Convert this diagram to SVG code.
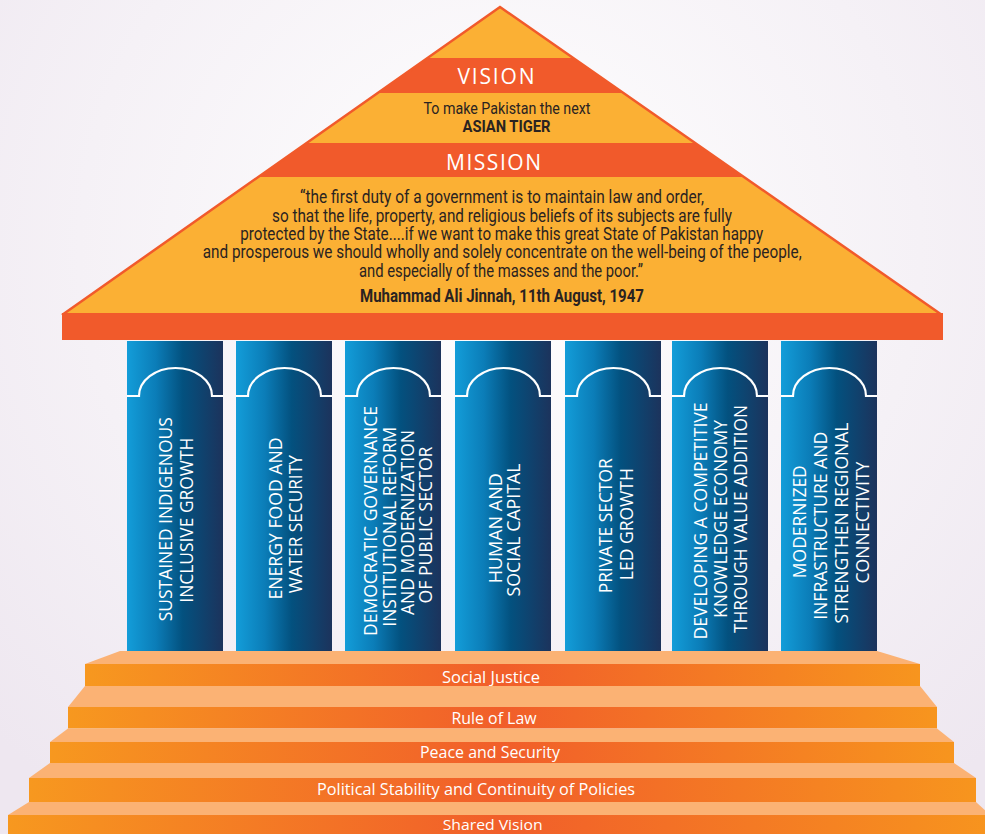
<svg xmlns="http://www.w3.org/2000/svg" width="985" height="834" viewBox="0 0 985 834">
<defs>
  <radialGradient id="bg" cx="500" cy="250" r="700" gradientUnits="userSpaceOnUse">
    <stop offset="0" stop-color="#FFFFFF"/>
    <stop offset="0.6" stop-color="#F5F1F6"/>
    <stop offset="1" stop-color="#EEE7F0"/>
  </radialGradient>
  <linearGradient id="col" x1="0" y1="0" x2="1" y2="0">
    <stop offset="0" stop-color="#139DD9"/>
    <stop offset="0.3" stop-color="#0B7DB8"/>
    <stop offset="0.58" stop-color="#03517F"/>
    <stop offset="1" stop-color="#1C335C"/>
  </linearGradient>
  <linearGradient id="step" x1="0" y1="0" x2="1" y2="0">
    <stop offset="0" stop-color="#F7981F"/>
    <stop offset="0.5" stop-color="#F15E2A"/>
    <stop offset="1" stop-color="#F7951E"/>
  </linearGradient>
  <clipPath id="roofClip">
    <polygon points="500,7 62,315 942,315"/>
  </clipPath>
  <style>
    .roofFill{fill:#FBB034;}
    .band{fill:#F15A2B;}
    .edge{fill:none;stroke:#F15A2B;stroke-width:2.5;stroke-linejoin:miter;}
    .hd{font-family:"Open Sans","Liberation Sans",sans-serif;font-size:21px;fill:#FFFFFF;text-anchor:middle;}
    .q{font-family:Roboto,"Liberation Sans",sans-serif;font-size:17.5px;fill:#2A2321;text-anchor:middle;}
    .qb{font-family:Roboto,"Liberation Sans",sans-serif;font-size:17.5px;font-weight:bold;fill:#2A2321;text-anchor:middle;}
    .v{font-family:Roboto,"Liberation Sans",sans-serif;font-size:16px;fill:#2A2321;text-anchor:middle;}
    .vb{font-family:Roboto,"Liberation Sans",sans-serif;font-size:16px;font-weight:bold;fill:#2A2321;text-anchor:middle;}
    .column{fill:url(#col);}
    .cap{fill:none;stroke:#FFFFFF;stroke-width:2.2;}
    .ct{font-family:"Open Sans","Liberation Sans",sans-serif;font-size:19px;fill:#FFFFFF;text-anchor:middle;}
    .top{fill:#FBB274;}
    .front{fill:url(#step);}
    .st{font-family:"Open Sans","Liberation Sans",sans-serif;font-size:16px;fill:#FFFFFF;text-anchor:middle;}
  </style>
</defs>

<rect x="0" y="0" width="985" height="834" fill="url(#bg)"/>

<g id="roof">
  <polygon class="roofFill" points="500,7 62,315 942,315"/>
  <g clip-path="url(#roofClip)">
    <rect class="band" x="0" y="58" width="985" height="35"/>
    <rect class="band" x="0" y="143" width="985" height="34"/>
  </g>
  <polyline class="edge" points="62,315 500,7 942,315"/>
</g>

<g id="vision">
  <text class="hd" x="496" y="83.5" textLength="77" lengthAdjust="spacing">VISION</text>
  <text class="v" x="507" y="114" textLength="167" lengthAdjust="spacingAndGlyphs">To make Pakistan the next</text>
  <text class="vb" x="506.5" y="132" textLength="88" lengthAdjust="spacingAndGlyphs">ASIAN TIGER</text>
</g>

<g id="mission">
  <text class="hd" x="493.5" y="170" textLength="95" lengthAdjust="spacing">MISSION</text>
  <text class="q" x="502" y="203" textLength="404" lengthAdjust="spacingAndGlyphs">“the first duty of a government is to maintain law and order,</text>
  <text class="q" x="502" y="221.5" textLength="460" lengthAdjust="spacingAndGlyphs">so that the life, property, and religious beliefs of its subjects are fully</text>
  <text class="q" x="501.7" y="240" textLength="523" lengthAdjust="spacingAndGlyphs">protected by the State....if we want to make this great State of Pakistan happy</text>
  <text class="q" x="502.2" y="258.3" textLength="599" lengthAdjust="spacingAndGlyphs">and prosperous we should wholly and solely concentrate on the well-being of the people,</text>
  <text class="q" x="501" y="276.7" textLength="284" lengthAdjust="spacingAndGlyphs">and especially of the masses and the poor.”</text>
  <text class="qb" x="502" y="301.7" textLength="284" lengthAdjust="spacingAndGlyphs">Muhammad Ali Jinnah, 11th August, 1947</text>
</g>

<g id="cornice">
  <rect class="band" x="62" y="313" width="881" height="27"/>
</g>

<g id="pillar1">
  <rect class="column" x="127" y="341" width="96" height="310"/>
  <path class="cap" d="M127,396 H139 A36.5,28 0 0 1 212,396 H223"/>
  <text class="ct" transform="translate(171.7,519.2) rotate(-90)" textLength="204" lengthAdjust="spacingAndGlyphs">SUSTAINED INDIGENOUS</text>
  <text class="ct" transform="translate(192.7,520.2) rotate(-90)" textLength="165" lengthAdjust="spacingAndGlyphs">INCLUSIVE GROWTH</text>
</g>

<g id="pillar2">
  <rect class="column" x="236" y="341" width="96" height="310"/>
  <path class="cap" d="M236,396 H248 A36.5,28 0 0 1 321,396 H332"/>
  <text class="ct" transform="translate(281.7,518.5) rotate(-90)" textLength="162" lengthAdjust="spacingAndGlyphs">ENERGY FOOD AND</text>
  <text class="ct" transform="translate(301.7,524.2) rotate(-90)" textLength="138" lengthAdjust="spacingAndGlyphs">WATER SECURITY</text>
</g>

<g id="pillar3">
  <rect class="column" x="345" y="341" width="96" height="310"/>
  <path class="cap" d="M345,396 H357 A36.5,28 0 0 1 430,396 H441"/>
  <text class="ct" transform="translate(377,521) rotate(-90)" textLength="230" lengthAdjust="spacingAndGlyphs">DEMOCRATIC GOVERNANCE</text>
  <text class="ct" transform="translate(396,526.7) rotate(-90)" textLength="200" lengthAdjust="spacingAndGlyphs">INSTITUTIONAL REFORM</text>
  <text class="ct" transform="translate(414,522.5) rotate(-90)" textLength="185" lengthAdjust="spacingAndGlyphs">AND MODERNIZATION</text>
  <text class="ct" transform="translate(432,525) rotate(-90)" textLength="157" lengthAdjust="spacingAndGlyphs">OF PUBLIC SECTOR</text>
</g>

<g id="pillar4">
  <rect class="column" x="455" y="341" width="96" height="310"/>
  <path class="cap" d="M455,396 H467 A36.5,28 0 0 1 540,396 H551"/>
  <text class="ct" transform="translate(501.7,528.3) rotate(-90)" textLength="110" lengthAdjust="spacingAndGlyphs">HUMAN AND</text>
  <text class="ct" transform="translate(520,530) rotate(-90)" textLength="133" lengthAdjust="spacingAndGlyphs">SOCIAL CAPITAL</text>
</g>

<g id="pillar5">
  <rect class="column" x="565" y="341" width="96" height="310"/>
  <path class="cap" d="M565,396 H577 A36.5,28 0 0 1 650,396 H661"/>
  <text class="ct" transform="translate(611.7,525.8) rotate(-90)" textLength="135" lengthAdjust="spacingAndGlyphs">PRIVATE SECTOR</text>
  <text class="ct" transform="translate(632.7,524.2) rotate(-90)" textLength="112" lengthAdjust="spacingAndGlyphs">LED GROWTH</text>
</g>

<g id="pillar6">
  <rect class="column" x="672" y="341" width="96" height="310"/>
  <path class="cap" d="M672,396 H684 A36.5,28 0 0 1 757,396 H768"/>
  <text class="ct" transform="translate(706.7,521) rotate(-90)" textLength="237" lengthAdjust="spacingAndGlyphs">DEVELOPING A COMPETITIVE</text>
  <text class="ct" transform="translate(726.7,519) rotate(-90)" textLength="198" lengthAdjust="spacingAndGlyphs">KNOWLEDGE ECONOMY</text>
  <text class="ct" transform="translate(747.3,519) rotate(-90)" textLength="228" lengthAdjust="spacingAndGlyphs">THROUGH VALUE ADDITION</text>
</g>

<g id="pillar7">
  <rect class="column" x="781" y="341" width="96" height="310"/>
  <path class="cap" d="M781,396 H793 A36.5,28 0 0 1 866,396 H877"/>
  <text class="ct" transform="translate(806,521.7) rotate(-90)" textLength="113" lengthAdjust="spacingAndGlyphs">MODERNIZED</text>
  <text class="ct" transform="translate(826.7,525.8) rotate(-90)" textLength="188" lengthAdjust="spacingAndGlyphs">INFRASTRUCTURE AND</text>
  <text class="ct" transform="translate(848.3,523) rotate(-90)" textLength="201" lengthAdjust="spacingAndGlyphs">STRENGTHEN REGIONAL</text>
  <text class="ct" transform="translate(869.3,522.5) rotate(-90)" textLength="122" lengthAdjust="spacingAndGlyphs">CONNECTIVITY</text>
</g>

<g id="step-social-justice">
  <polygon class="top" points="120,651 877,651 920,664 85,664"/>
  <rect class="front" x="85" y="664" width="835" height="22"/>
  <text class="st" x="491" y="682.5" textLength="98" lengthAdjust="spacingAndGlyphs">Social Justice</text>
</g>

<g id="step-rule-of-law">
  <polygon class="top" points="85,686 920,686 937,707 68,707"/>
  <rect class="front" x="68" y="707" width="869" height="21.5"/>
  <text class="st" x="494" y="724" textLength="85" lengthAdjust="spacingAndGlyphs">Rule of Law</text>
</g>

<g id="step-peace-security">
  <polygon class="top" points="68,728.5 937,728.5 954,742 50,742"/>
  <rect class="front" x="50" y="742" width="904" height="21"/>
  <text class="st" x="490" y="758.3" textLength="140" lengthAdjust="spacingAndGlyphs">Peace and Security</text>
</g>

<g id="step-political-stability">
  <polygon class="top" points="50,763 954,763 976,778 29,778"/>
  <rect class="front" x="29" y="778" width="947" height="24"/>
  <text class="st" x="476" y="795" textLength="318" lengthAdjust="spacingAndGlyphs">Political Stability and Continuity of Policies</text>
</g>

<g id="step-shared-vision">
  <polygon class="top" points="29,802 976,802 990,815 8,815"/>
  <rect class="front" x="8" y="815" width="990" height="20"/>
  <text class="st" x="492.7" y="829.5" style="font-size:15px" textLength="100" lengthAdjust="spacingAndGlyphs">Shared Vision</text>
</g>
</svg>
